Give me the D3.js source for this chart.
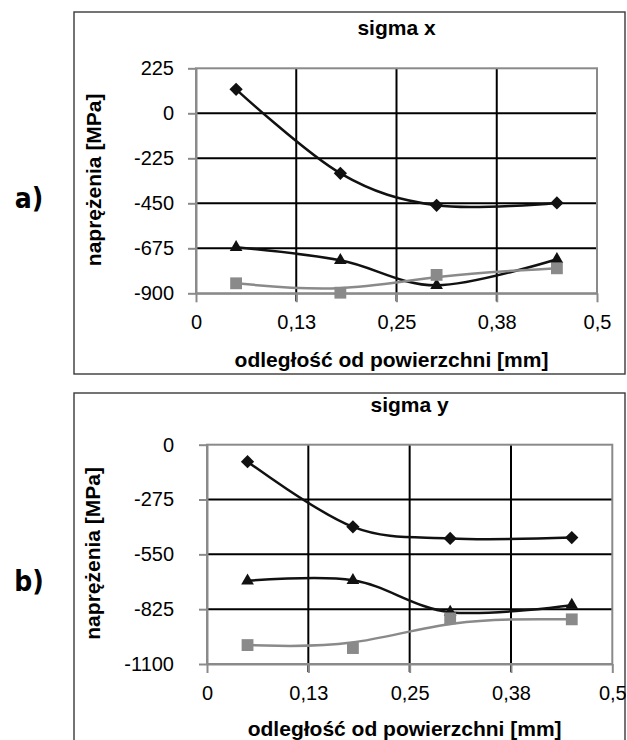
<!DOCTYPE html>
<html>
<head>
<meta charset="utf-8">
<script src="https://cdn.jsdelivr.net/npm/d3@7"></script>
<style>
  body { margin: 0; background: #fff; }
  text { font-family: "Liberation Sans", Arial, sans-serif; }
</style>
</head>
<body>
<svg id="chart" width="627" height="740"></svg>
<script>
// depth of measurement points [mm]
const depth = [0.05, 0.18, 0.30, 0.45];
const xTicks = [0, 0.125, 0.25, 0.375, 0.5];
const xTickLabels = ["0", "0,13", "0,25", "0,38", "0,5"];

// sigma x [MPa]
const sigmaXTicks = [225, 0, -225, -450, -675, -900];
const sigmaXDiamond = [120, -300, -460, -448];
const sigmaXTriangle = [-670, -735, -860, -730];
const sigmaXSquare = [-850, -897, -808, -775];

// sigma y [MPa]
const sigmaYTicks = [0, -275, -550, -825, -1100];
const sigmaYDiamond = [-85, -412, -470, -466];
const sigmaYTriangle = [-683, -680, -840, -805];
const sigmaYSquare = [-1005, -1020, -871, -876];

const gray = "#8a8a8a";
const svg = d3.select("#chart");

function drawPanel(p) {
  const clipId = "clip-" + p.letter;
  svg.append("defs").append("clipPath").attr("id", clipId)
    .append("rect")
    .attr("x", 0).attr("y", p.frame.top - 2)
    .attr("width", p.frame.right + 1).attr("height", p.frame.bottom - p.frame.top + 4);

  const g = svg.append("g").attr("clip-path", `url(#${clipId})`);

  g.append("rect")
    .attr("x", p.frame.left).attr("y", p.frame.top)
    .attr("width", p.frame.right - p.frame.left)
    .attr("height", p.frame.bottom - p.frame.top)
    .attr("fill", "none").attr("stroke", "#3a3a3a").attr("stroke-width", 1.4);

  const x = d3.scaleLinear().domain([0, 0.5]).range([p.plot.left, p.plot.right]);
  const y = d3.scaleLinear()
    .domain([p.yTicks[p.yTicks.length - 1], p.yTicks[0]])
    .range([p.plot.bottom, p.plot.top]);

  // grid
  g.append("g").selectAll("line")
    .data(p.yTicks.slice(1, -1))
    .join("line")
    .attr("x1", x(0)).attr("x2", x(0.5))
    .attr("y1", d => y(d)).attr("y2", d => y(d))
    .attr("stroke", "#000").attr("stroke-width", 2);

  g.append("g").selectAll("line")
    .data(xTicks.slice(1, -1))
    .join("line")
    .attr("x1", d => x(d)).attr("x2", d => x(d))
    .attr("y1", y.range()[1]).attr("y2", y.range()[0] + 8)
    .attr("stroke", "#000").attr("stroke-width", 2);

  g.append("rect")
    .attr("x", x(0)).attr("y", y(p.yTicks[0]))
    .attr("width", x(0.5) - x(0))
    .attr("height", y.range()[0] - y.range()[1])
    .attr("fill", "none").attr("stroke", gray).attr("stroke-width", 2);

  // axes
  const yAxis = d3.axisLeft(y)
    .tickValues(p.yTicks)
    .tickSizeInner(8).tickSizeOuter(0)
    .tickPadding(p.yPad)
    .tickFormat(d => String(d));

  const ya = g.append("g").attr("transform", `translate(${x(0)},0)`).call(yAxis);

  const xAxis = d3.axisBottom(x)
    .tickValues(xTicks)
    .tickSizeInner(9).tickSizeOuter(0)
    .tickPadding(13)
    .tickFormat((d, i) => xTickLabels[i]);

  const xa = g.append("g").attr("transform", `translate(0,${y.range()[0]})`).call(xAxis);

  [ya, xa].forEach(a => {
    a.select(".domain").attr("stroke", gray).attr("stroke-width", 2);
    a.selectAll(".tick line").attr("stroke", gray).attr("stroke-width", 2);
    a.selectAll(".tick text")
      .attr("fill", "#000")
      .style("font-family", '"Liberation Sans", Arial, sans-serif')
      .style("font-size", "20px");
  });

  // series
  const series = [
    { values: p.diamond, color: "#111", curve: d3.curveCardinal, mark: "diamond" },
    { values: p.triangle, color: "#111", curve: d3.curveCardinal, mark: "triangle" },
    { values: p.square, color: gray, curve: d3.curveBasis, mark: "square" }
  ];

  const line = d3.line()
    .x(d => x(d[0]))
    .y(d => y(d[1]));

  series.forEach(s => {
    const pts = depth.map((d, i) => [d, s.values[i]]);
    g.append("path")
      .datum(pts)
      .attr("fill", "none")
      .attr("stroke", s.color)
      .attr("stroke-width", 2.5)
      .attr("d", line.curve(s.curve));

    let sym, rot = 0;
    if (s.mark === "diamond") { sym = d3.symbol(d3.symbolSquare, 88); rot = 45; }
    else if (s.mark === "triangle") sym = d3.symbol(d3.symbolTriangle, 70);
    else sym = d3.symbol(d3.symbolSquare, 140);

    g.append("g").selectAll("path")
      .data(pts)
      .join("path")
      .attr("transform", d => `translate(${x(d[0])},${y(d[1])}) rotate(${rot})`)
      .attr("d", sym)
      .attr("fill", s.color);
  });

  // titles
  const cx = (p.plot.left + p.plot.right) / 2;
  g.append("text")
    .attr("x", cx).attr("y", p.plot.top - 33)
    .attr("text-anchor", "middle")
    .attr("font-weight", "bold").attr("font-size", 21)
    .text(p.title);

  g.append("text")
    .attr("x", cx - 5).attr("y", p.plot.bottom + p.xTitleDy)
    .attr("text-anchor", "middle")
    .attr("font-weight", "bold").attr("font-size", 21)
    .text("odległość od powierzchni [mm]");

  g.append("text")
    .attr("transform", `translate(${p.yTitleX},${(p.plot.top + p.plot.bottom) / 2 - 1}) rotate(-90)`)
    .attr("text-anchor", "middle")
    .attr("font-weight", "bold").attr("font-size", 21)
    .text("naprężenia [MPa]");

  svg.append("text")
    .attr("x", 29).attr("y", p.letterY)
    .attr("text-anchor", "middle")
    .style("font-family", '"DejaVu Sans Condensed", "DejaVu Sans", sans-serif')
    .attr("font-weight", "bold").attr("font-size", 28)
    .text(p.letter + ")");
}

drawPanel({
  letter: "a",
  title: "sigma x",
  frame: { left: 74, top: 12, right: 625, bottom: 374 },
  plot: { left: 196, top: 68.3, right: 597, bottom: 293.3 },
  yTicks: sigmaXTicks,
  yPad: 14,
  yTitleX: 101,
  xTitleDy: 74,
  letterY: 208,
  diamond: sigmaXDiamond,
  triangle: sigmaXTriangle,
  square: sigmaXSquare
});

drawPanel({
  letter: "b",
  title: "sigma y",
  frame: { left: 74, top: 393, right: 625, bottom: 760 },
  plot: { left: 207, top: 444.7, right: 612.3, bottom: 664 },
  yTicks: sigmaYTicks,
  yPad: 25,
  yTitleX: 100,
  xTitleDy: 72,
  letterY: 591,
  diamond: sigmaYDiamond,
  triangle: sigmaYTriangle,
  square: sigmaYSquare
});
</script>
</body>
</html>
